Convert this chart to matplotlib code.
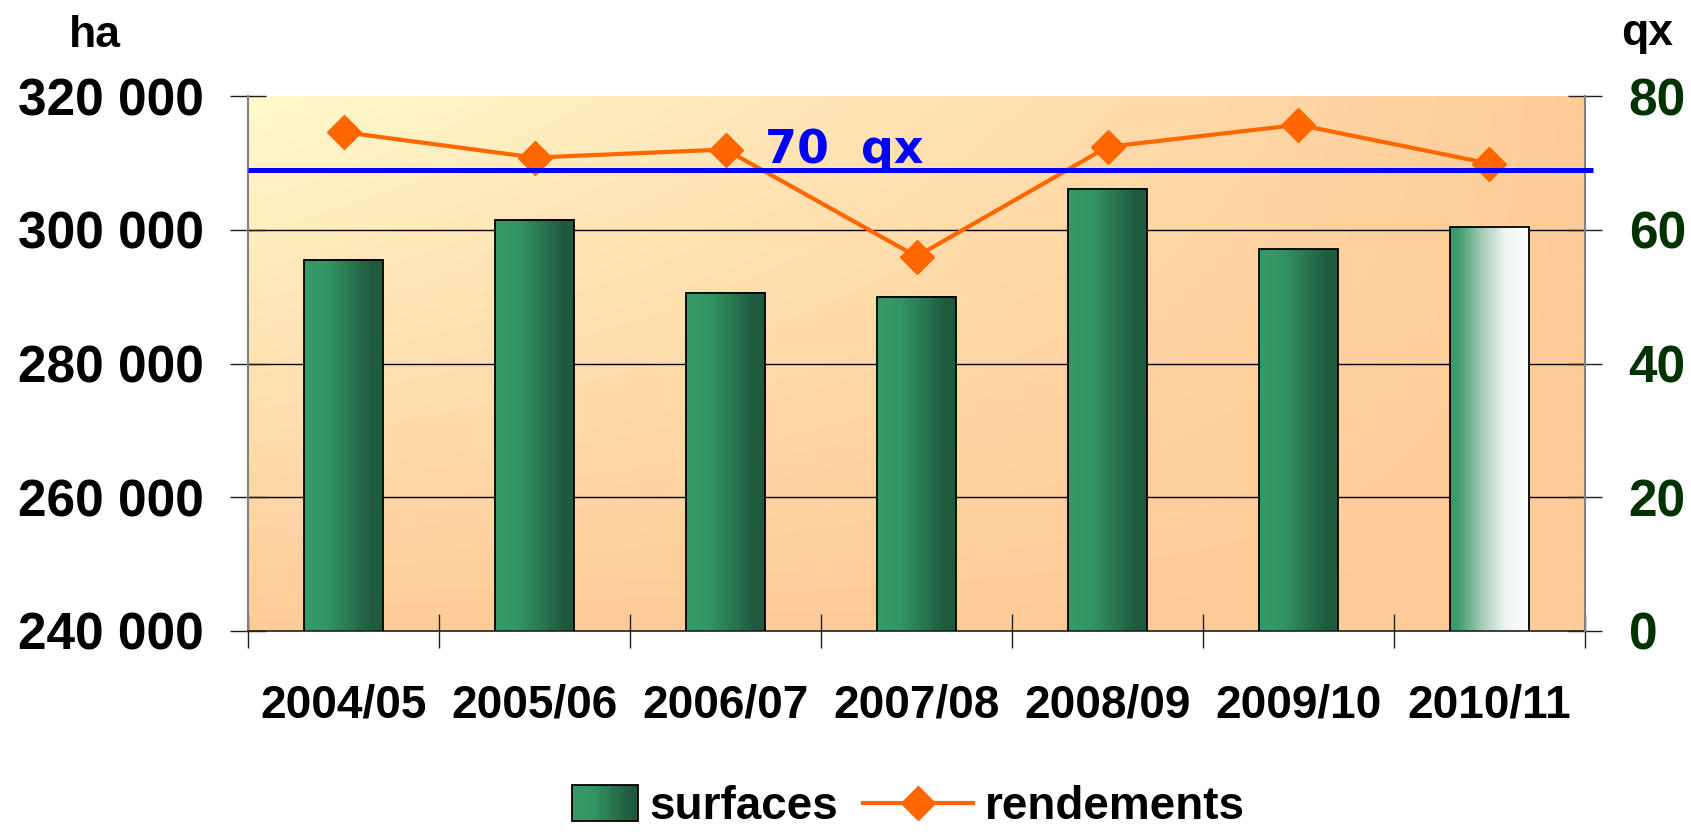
import numpy as np
import matplotlib
matplotlib.use('Agg')
import matplotlib.pyplot as plt
from matplotlib.colors import to_rgb
from matplotlib.lines import Line2D
from matplotlib.patches import Rectangle
from matplotlib.legend_handler import HandlerBase
from matplotlib.ticker import FuncFormatter

# ---------------- data ----------------
campagnes = ['2004/05', '2005/06', '2006/07', '2007/08', '2008/09', '2009/10', '2010/11']
surfaces = [295500, 301500, 290600, 290000, 306100, 297100, 300400]
rendements = [74.6, 70.8, 72.0, 56.0, 72.4, 75.7, 69.9]
moyenne = 69.0
moyenne_label = '70  qx'
y_left_ticks = [240000, 260000, 280000, 300000, 320000]
y_right_ticks = [0, 20, 40, 60, 80]

plt.rcParams['font.family'] = ['Liberation Sans', 'DejaVu Sans']
plt.rcParams['font.weight'] = 'bold'

fig = plt.figure(figsize=(16.91, 8.32), dpi=100)
ax = fig.add_axes([0.1467, 0.2416, 0.7906, 0.643])

# background gradient (light yellow top-left -> peach)
ny, nx = 200, 300
xx = np.linspace(0, 1, nx)[None, :]
yy = np.linspace(0, 1, ny)[:, None]
t = 1 - (1 - xx) * (1 - yy)
c0 = np.array([255, 250, 205]) / 255
c1 = np.array([255, 204, 153]) / 255
bg = c0 + (c1 - c0) * t[..., None]
ax.patch.set_visible(False)
ax.imshow(bg, extent=(0, 1, 0, 1), transform=ax.transAxes, aspect='auto',
          origin='upper', zorder=0, interpolation='bilinear')

# gridlines
for v in y_left_ticks[1:-1]:
    ax.axhline(v, color='black', lw=1.0, zorder=1)


def gradient(stops, n=200):
    pos = np.linspace(0, 1, n)
    ps = [s[0] for s in stops]
    cs = np.array([to_rgb(s[1]) for s in stops])
    arr = np.stack([np.interp(pos, ps, cs[:, k]) for k in range(3)], axis=-1)
    return arr[None, :, :]


grad_std = gradient([(0, '#369a67'), (0.3, '#339565'), (0.85, '#1f5c3e'), (1, '#1e5a3c')])
grad_last = gradient([(0, '#3a9a6a'), (0.1, '#3e9b6c'), (0.4, '#a3ccb5'), (0.7, '#eef5f1'), (1, '#ffffff')])

x = np.arange(len(campagnes))
w = 0.41
bars = ax.bar(x, surfaces, width=w, facecolor='none', edgecolor='black', lw=1.3, zorder=3)
for i, b in enumerate(bars):
    g = grad_last if i == len(bars) - 1 else grad_std
    ax.imshow(g, extent=(b.get_x(), b.get_x() + b.get_width(), 240000, b.get_height()),
              aspect='auto', zorder=2, interpolation='bilinear')

ax.set_xlim(-0.5, len(campagnes) - 0.5)
ax.set_ylim(y_left_ticks[0], y_left_ticks[-1])
ax.set_aspect('auto')

ax.set_yticks(y_left_ticks)
ax.yaxis.set_major_formatter(FuncFormatter(lambda v, p: f'{int(v):,}'.replace(',', ' ')))
ax.tick_params(axis='y', direction='inout', length=26, width=1.0, color='#202020',
               labelsize=37, pad=19)
ax.set_xticks(x)
ax.set_xticklabels(campagnes)
ax.set_xticks(np.arange(-0.5, len(campagnes), 1), minor=True)
ax.tick_params(axis='x', which='major', length=0, labelsize=33, pad=38)
ax.tick_params(axis='x', which='minor', direction='inout', length=24.5, width=1.0, color='#202020')

for s in ['top', 'right']:
    ax.spines[s].set_visible(False)
ax.spines['left'].set_color('#808080')
ax.spines['left'].set_linewidth(1.5)
ax.spines['bottom'].set_color('#202020')
ax.spines['bottom'].set_linewidth(1.2)

ax2 = ax.twinx()
ax2.set_ylim(y_right_ticks[0], y_right_ticks[-1])
ax2.set_yticks(y_right_ticks)
ax2.tick_params(axis='y', direction='inout', length=25, width=1.0, color='#202020',
                labelsize=37, labelcolor='#003300', pad=19)
for s in ['top', 'left', 'bottom']:
    ax2.spines[s].set_visible(False)
ax2.spines['right'].set_color('#808080')
ax2.spines['right'].set_linewidth(1.5)

line, = ax2.plot(x, rendements, color='#FF6600', lw=3.0, marker='D', ms=17,
                 mec='#FF6600', mfc='#FF6600', zorder=4)
ax2.plot([0, 1.006], [moyenne, moyenne], transform=ax2.get_yaxis_transform(),
         color='#0000FF', lw=3.6, zorder=5, clip_on=False, solid_capstyle='butt')
ax2.text(2.208, 70, moyenne_label, color='#0000FF', fontsize=33, fontweight='bold',
         family='DejaVu Sans', va='baseline', ha='left', zorder=6)

fig.text(95 / 1691, 1 - 47 / 832, 'ha', ha='center', va='baseline', fontsize=32, fontweight='bold')
fig.text(1647 / 1691, 1 - 45 / 832, 'qx', ha='center', va='baseline', fontsize=32, fontweight='bold')


class GradientHandler(HandlerBase):
    def create_artists(self, legend, orig_handle, xdescent, ydescent, width, height, fontsize, trans):
        n = 30
        rw = width * 0.6
        x0 = -xdescent + width - rw
        y0 = -ydescent - height * 0.05
        h = height * 1.1
        arts = []
        cols = grad_std[0]
        for i in range(n):
            c = cols[int(i / n * (len(cols) - 1))]
            arts.append(Rectangle((x0 + i * rw / n, y0), rw / n * 1.1, h, facecolor=c,
                                  edgecolor='none', transform=trans))
        arts.append(Rectangle((x0, y0), rw, h, facecolor='none', edgecolor='black', lw=1.3,
                              transform=trans))
        return arts


dummy = Rectangle((0, 0), 1, 1)
line_h = Line2D([], [], color='#FF6600', lw=3.0, marker='D', ms=17, mec='#FF6600')
fig.legend(handles=[dummy, line_h], labels=['surfaces', 'rendements'],
           handler_map={dummy: GradientHandler()}, ncol=2, frameon=False,
           prop={'size': 33, 'weight': 'bold'}, handlelength=2.4, handletextpad=0.25,
           columnspacing=0.55, loc='center', bbox_to_anchor=(0.524, 0.03), borderpad=0,
           numpoints=1)

fig.savefig('out.png', dpi=100)
